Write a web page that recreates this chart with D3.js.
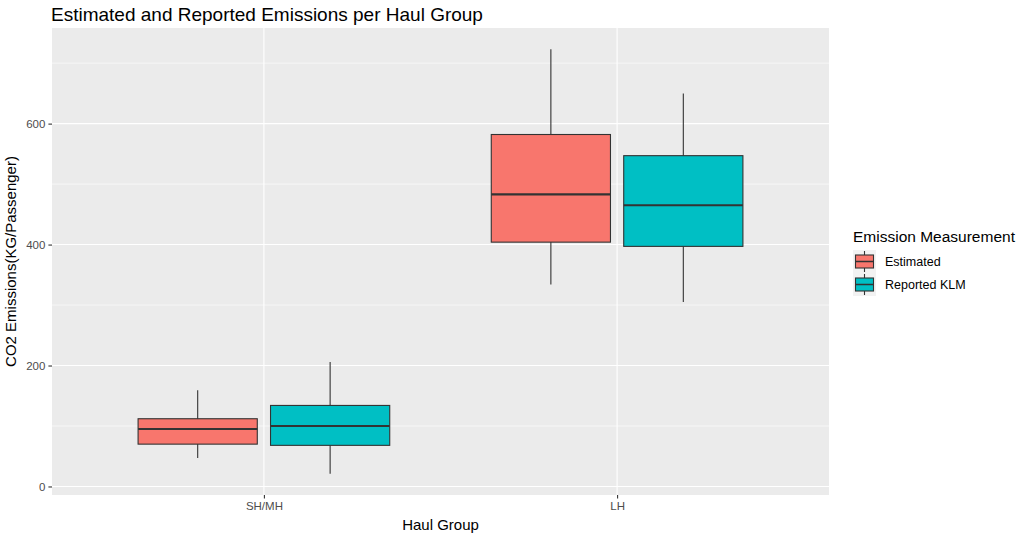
<!DOCTYPE html>
<html>
<head>
<meta charset="utf-8">
<script src="https://cdn.jsdelivr.net/npm/d3@7"></script>
<style>
  body { margin: 0; background: #fff; }
  svg text { font-family: "Liberation Sans", Arial, sans-serif; }
</style>
</head>
<body>
<svg id="chart" width="1017" height="535"></svg>
<script>
// Box statistics: [lower whisker, Q1, median, Q3, upper whisker]
const groups = ['SH/MH', 'LH'];
const series = ['Estimated', 'Reported KLM'];
const colors = ['#F8766D', '#00BFC4'];
const estimatedStats = [
    [47, 70, 95, 112, 159],
    [334, 404, 483, 582, 723]
];
const reportedStats = [
    [21, 68, 100, 134, 206],
    [305, 397, 465, 547, 650]
];
const yTicks = [0, 200, 400, 600];
const yMinor = [100, 300, 500, 700];

const panel = { left: 52, right: 829, top: 28, bottom: 495 };
const svg = d3.select('#chart');

const x = d3.scalePoint()
    .domain(groups)
    .range([panel.left, panel.right])
    .padding(0.6);
const step = x.step();

const allVals = estimatedStats.concat(reportedStats).flat();
const lo = d3.min(allVals), hi = d3.max(allVals);
const pad = (hi - lo) * 0.05;
const y = d3.scaleLinear()
    .domain([lo - pad, hi + pad])
    .range([panel.bottom, panel.top]);

// panel background
svg.append('rect')
    .attr('x', panel.left).attr('y', panel.top)
    .attr('width', panel.right - panel.left)
    .attr('height', panel.bottom - panel.top)
    .attr('fill', '#EBEBEB');

// grid
svg.append('g').selectAll('line')
    .data(yMinor).join('line')
    .attr('x1', panel.left).attr('x2', panel.right)
    .attr('y1', d => y(d)).attr('y2', d => y(d))
    .attr('stroke', '#fff').attr('stroke-width', 0.6);
svg.append('g').selectAll('line')
    .data(yTicks).join('line')
    .attr('x1', panel.left).attr('x2', panel.right)
    .attr('y1', d => y(d)).attr('y2', d => y(d))
    .attr('stroke', '#fff').attr('stroke-width', 1.1);
svg.append('g').selectAll('line')
    .data(groups).join('line')
    .attr('x1', d => x(d)).attr('x2', d => x(d))
    .attr('y1', panel.top).attr('y2', panel.bottom)
    .attr('stroke', '#fff').attr('stroke-width', 1.1);

// boxes
const boxW = step * 0.3375;
const offsets = [-step * 0.1875, step * 0.1875];
const boxData = [];
groups.forEach((g, i) => {
    [estimatedStats[i], reportedStats[i]].forEach((s, j) => {
        boxData.push({ group: g, series: j, stats: s });
    });
});

const boxes = svg.append('g').selectAll('g')
    .data(boxData).join('g');

boxes.append('line')
    .attr('x1', d => x(d.group) + offsets[d.series])
    .attr('x2', d => x(d.group) + offsets[d.series])
    .attr('y1', d => y(d.stats[0])).attr('y2', d => y(d.stats[4]))
    .attr('stroke', '#333').attr('stroke-width', 1.1);

boxes.append('rect')
    .attr('x', d => x(d.group) + offsets[d.series] - boxW / 2)
    .attr('width', boxW)
    .attr('y', d => y(d.stats[3]))
    .attr('height', d => y(d.stats[1]) - y(d.stats[3]))
    .attr('fill', d => colors[d.series])
    .attr('stroke', '#333').attr('stroke-width', 1.1);

boxes.append('line')
    .attr('x1', d => x(d.group) + offsets[d.series] - boxW / 2)
    .attr('x2', d => x(d.group) + offsets[d.series] + boxW / 2)
    .attr('y1', d => y(d.stats[2])).attr('y2', d => y(d.stats[2]))
    .attr('stroke', '#333').attr('stroke-width', 2.2);

// axes
const yAxis = svg.append('g')
    .attr('transform', `translate(${panel.left},0)`)
    .call(d3.axisLeft(y).tickValues(yTicks).tickSize(3.6).tickPadding(3));
const xAxis = svg.append('g')
    .attr('transform', `translate(0,${panel.bottom})`)
    .call(d3.axisBottom(x).tickSize(3.6).tickPadding(3));
[yAxis, xAxis].forEach(a => {
    a.select('.domain').remove();
    a.selectAll('.tick line').attr('stroke', '#333').attr('stroke-width', 1.1);
    a.selectAll('.tick text').attr('fill', '#4D4D4D')
        .style('font-size', '11.5px')
        .style('font-family', '"Liberation Sans", Arial, sans-serif');
});

// titles
svg.append('text')
    .attr('x', 51).attr('y', 21)
    .style('font-size', '19px').attr('fill', '#000')
    .text('Estimated and Reported Emissions per Haul Group');

svg.append('text')
    .attr('x', (panel.left + panel.right) / 2).attr('y', 530)
    .attr('text-anchor', 'middle')
    .style('font-size', '15px').attr('fill', '#000')
    .text('Haul Group');

svg.append('text')
    .attr('transform', `translate(16,${(panel.top + panel.bottom) / 2}) rotate(-90)`)
    .attr('text-anchor', 'middle')
    .style('font-size', '15px').attr('fill', '#000')
    .text('CO2 Emissions(KG/Passenger)');

// legend
const legend = svg.append('g').attr('transform', 'translate(853,242)');
legend.append('text')
    .attr('x', 0).attr('y', 0)
    .style('font-size', '15.5px').attr('fill', '#000')
    .text('Emission Measurement');

const keySize = 23;
const keys = legend.selectAll('.key')
    .data(series).join('g')
    .attr('class', 'key')
    .attr('transform', (d, i) => `translate(0,${8 + i * keySize})`);
keys.append('rect')
    .attr('width', keySize).attr('height', keySize)
    .attr('fill', '#F2F2F2');
keys.append('line')
    .attr('x1', keySize / 2).attr('x2', keySize / 2)
    .attr('y1', 1).attr('y2', keySize - 1)
    .attr('stroke', '#333').attr('stroke-width', 1.1);
keys.append('rect')
    .attr('x', 2.5).attr('y', 5)
    .attr('width', keySize - 5).attr('height', keySize - 10)
    .attr('fill', (d, i) => colors[i])
    .attr('stroke', '#333').attr('stroke-width', 1.1);
keys.append('line')
    .attr('x1', 2.5).attr('x2', keySize - 2.5)
    .attr('y1', keySize / 2).attr('y2', keySize / 2)
    .attr('stroke', '#333').attr('stroke-width', 1.5);
keys.append('text')
    .attr('x', keySize + 9).attr('y', keySize / 2 + 4.5)
    .style('font-size', '12.5px').attr('fill', '#000')
    .text(d => d);
</script>
</body>
</html>
